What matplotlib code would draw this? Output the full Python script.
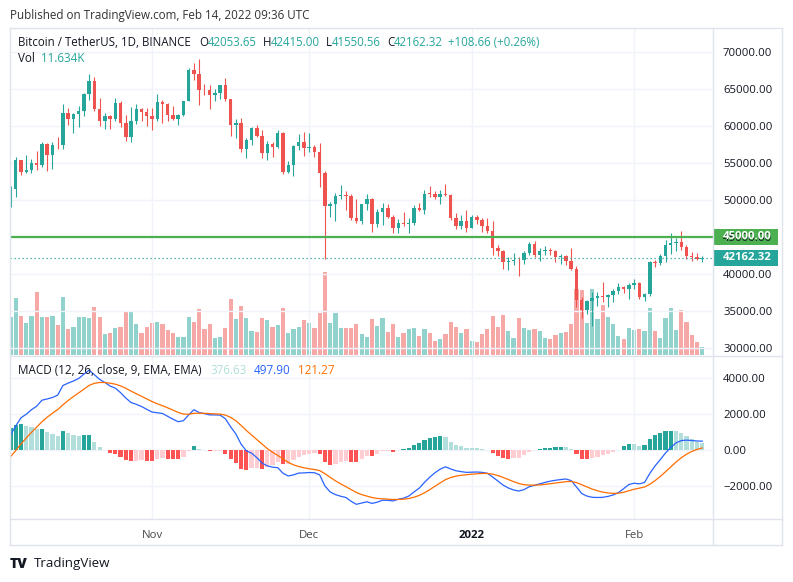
import matplotlib
matplotlib.use('Agg')
import matplotlib.pyplot as plt
import matplotlib.dates as mdates
from matplotlib.patches import Rectangle
from matplotlib.lines import Line2D
from matplotlib.ticker import FuncFormatter
from matplotlib.transforms import IdentityTransform
import numpy as np
import pandas as pd

plt.rcParams['font.family'] = ['Open Sans', 'DejaVu Sans']

# BTC/USDT daily, Binance, 5 Oct 2021 .. 14 Feb 2022
dates = pd.date_range('2021-10-05', '2022-02-14', freq='D')

opens = [49229, 51471, 55315, 53785, 53955, 54949, 54659, 57471, 55996, 57370,
         57347, 61672, 60875, 61528, 62005, 64280, 66002, 62193, 60689, 61286,
         60852, 63079, 60328, 58414, 60576, 62253, 61859, 61300, 60911, 63220,
         62896, 61396, 60941, 61470, 63273, 67525, 66947, 64883, 64774, 64122,
         64380, 65520, 63606, 60059, 60345, 56891, 58052, 59707, 58617, 56247,
         57541, 57138, 58960, 53723, 54716, 57275, 57776, 56951, 57185, 56485,
         53602, 49152, 49397, 50441, 50588, 50472, 47535, 47141, 49389, 50053,
         46702, 48336, 48864, 47632, 46133, 46834, 46681, 46914, 48887, 48588,
         50839, 50820, 50400, 50775, 50701, 47544, 46464, 47120, 46217, 47722,
         47286, 46446, 45833, 43452, 43082, 41567, 41680, 41864, 41822, 42735,
         43950, 42592, 43099, 43178, 43114, 42251, 42374, 41744, 40680, 36445,
         35071, 36245, 36660, 36958, 36808, 37160, 37716, 38166, 37881, 38466,
         38694, 36897, 37311, 41571, 41382, 42380, 43839, 44118, 44338, 43566,
         42407, 42244, 42053.65]
highs = [51886, 55750, 55332, 56100, 55489, 56561, 57839, 57680, 57777, 58532,
         62933, 62378, 61718, 62695, 64486, 67000, 66639, 63732, 61747, 61500,
         63710, 63293, 61496, 62499, 62980, 62359, 62405, 62437, 64270, 63500,
         63086, 62637, 61560, 63286, 67789, 68524, 69000, 65600, 65450, 64990,
         65550, 66401, 63617, 60840, 60977, 58373, 59845, 60029, 59444, 57875,
         57735, 59398, 59150, 55280, 57445, 58865, 59176, 59053, 57375, 57600,
         53859, 49699, 50891, 51936, 51200, 50797, 50125, 49485, 50777, 50189,
         48700, 49500, 49436, 47995, 47392, 48300, 47537, 49328, 49576, 51375,
         51810, 51156, 51280, 52088, 50704, 48140, 47879, 48549, 47954, 47990,
         47570, 47557, 47070, 43816, 43145, 42300, 42786, 42248, 43100, 44322,
         44459, 43448, 43800, 43475, 43179, 42690, 42561, 43505, 41100, 36835,
         36499, 37550, 37545, 38920, 37234, 38000, 38720, 38359, 38744, 39265,
         38855, 37387, 41772, 41913, 42657, 44500, 45492, 44798, 45821, 43920,
         43000, 42760, 42415.00]
lows = [49000, 50382, 53357, 53617, 53661, 54080, 54415, 53879, 54167, 56818,
        56850, 60150, 58963, 59844, 61322, 63481, 62000, 60000, 59562, 59510,
        60650, 59817, 58000, 57820, 60174, 60673, 59945, 59405, 60624, 60382,
        60677, 60721, 60050, 61322, 63273, 66222, 62822, 64100, 62278, 63360,
        63576, 63400, 58574, 58373, 56474, 55600, 57353, 58486, 55610, 55317,
        55837, 57000, 53500, 53610, 53256, 56666, 55875, 56458, 55777, 51681,
        42000, 47728, 47100, 50040, 48600, 47320, 46852, 46751, 48638, 45672,
        46290, 46547, 47511, 45456, 45500, 46406, 45558, 46630, 48421, 48050,
        50384, 50142, 49412, 50449, 47313, 46096, 46060, 45678, 46208, 46654,
        45696, 45500, 42500, 42430, 40610, 40502, 41200, 39650, 41268, 42474,
        42311, 41725, 42555, 42581, 41540, 41250, 41138, 40553, 35440, 34008,
        34601, 32917, 35702, 36193, 35507, 36155, 37268, 37351, 36632, 38000,
        36586, 36250, 37026, 40843, 41116, 41645, 42666, 43117, 43187, 42000,
        41748, 41870, 41550.56]
closes = [51471, 55315, 53785, 53951, 54949, 54659, 57471, 55996, 57367, 57347,
          61672, 60875, 61528, 62009, 64280, 66001, 62193, 60688, 61286, 60852,
          63078, 60328, 58413, 60575, 62253, 61859, 61299, 60911, 63219, 62896,
          61395, 60937, 61470, 63273, 67525, 66947, 64882, 64774, 64122, 64380,
          65519, 63607, 60058, 60345, 56892, 58052, 59707, 58623, 56247, 57541,
          57138, 58960, 53726, 54721, 57274, 57776, 56950, 57184, 56480, 53601,
          49152, 49396, 50441, 50588, 50471, 47545, 47140, 49389, 50053, 46702,
          48343, 48864, 47632, 46131, 46834, 46681, 46914, 48889, 48588, 50838,
          50820, 50399, 50775, 50701, 47543, 46464, 47120, 46216, 47722, 47286,
          46446, 45833, 43451, 43082, 41566, 41679, 41864, 41822, 42736, 43950,
          42592, 43099, 43177, 43113, 42250, 42375, 41744, 40680, 36445, 35071,
          36244, 36660, 36958, 36809, 37160, 37716, 38166, 37882, 38466, 38694,
          36896, 37311, 41574, 41382, 42380, 43840, 44118, 44338, 43565, 42407,
          42244, 42053.65, 42162.32]
# volume in thousands of BTC
volumes = [52.5, 77.7, 53.8, 43.4, 53.8, 86.7, 51.6, 52.5, 53.8, 41.1,
           79.9, 35.2, 38.8, 51.6, 52.5, 50.3, 66.2, 51.6, 28.4, 30.6,
           36.6, 38.8, 60.7, 59.3, 42.5, 30.6, 38.8, 44.3, 45.6, 42.5,
           34.3, 30.6, 25.1, 25.1, 52.5, 44.8, 63.0, 35.6, 42.5, 22.9,
           25.1, 37.4, 76.3, 48.9, 67.1, 50.3, 33.3, 31.9, 51.1, 48.0,
           38.8, 41.1, 64.8, 29.7, 35.6, 38.8, 48.0, 44.3, 37.4, 58.0,
           114.1, 44.3, 57.1, 37.4, 37.4, 37.4, 42.9, 28.4, 24.7, 49.7,
           39.3, 51.1, 31.9, 42.1, 25.1, 29.7, 35.6, 37.4, 26.4, 35.6,
           30.6, 19.6, 21.9, 28.4, 44.8, 38.8, 29.7, 35.6, 19.6, 18.2,
           28.8, 35.9, 53.4, 38.4, 54.8, 32.9, 23.7, 51.1, 36.6, 34.3,
           36.0, 32.9, 23.7, 22.3, 27.4, 30.1, 31.5, 42.1, 90.0, 89.1,
           44.3, 90.0, 49.7, 68.1, 52.1, 42.1, 26.0, 22.3, 37.0, 34.7,
           36.0, 32.9, 64.4, 32.9, 23.7, 51.1, 64.0, 34.7, 61.7, 45.2,
           27.0, 17.8, 11.634]

# MACD (12, 26, close, 9)
macd_line = [840, 1350, 1800, 2000, 2250, 2450, 2780, 2850, 2930, 3060,
             3600, 3730, 3850, 3990, 4230, 4450, 4200, 3940, 3770, 3570,
             3450, 3200, 2900, 2650, 2550, 2430, 2270, 2120, 2080, 2040,
             1880, 1720, 1580, 1640, 1960, 2250, 2090, 2030, 1960, 1960,
             1950, 1750, 1300, 900, 330, -40, -170, -420, -720, -880,
             -950, -980, -1290, -1440, -1380, -1280, -1270, -1250, -1260, -1380,
             -2000, -2330, -2480, -2570, -2640, -2850, -3020, -2950, -2880, -2970,
             -2900, -2790, -2800, -2830, -2740, -2680, -2560, -2330, -2120, -1800,
             -1510, -1260, -1060, -930, -1050, -1150, -1200, -1240, -1230, -1220,
             -1240, -1290, -1500, -1720, -1950, -2110, -2220, -2280, -2200, -2040,
             -1960, -1880, -1800, -1730, -1680, -1640, -1610, -1700, -2050, -2420,
             -2560, -2630, -2640, -2630, -2580, -2500, -2370, -2150, -1920, -1845,
             -1880, -1800, -1300, -880, -530, -160, 150, 400, 530, 555,
             535, 508, 497.90]
signal_line = [-367, -24, 341, 673, 988, 1280, 1580, 1834, 2053, 2254,
               2523, 2764, 2981, 3183, 3392, 3604, 3723, 3766, 3767, 3728,
               3672, 3578, 3442, 3284, 3137, 2996, 2851, 2705, 2580, 2472,
               2354, 2227, 2098, 2006, 1997, 2048, 2056, 2051, 2033, 2018,
               2004, 1953, 1822, 1638, 1376, 1093, 840, 588, 326, 85,
               -122, -294, -493, -682, -822, -914, -985, -1038, -1082, -1142,
               -1314, -1517, -1710, -1882, -2034, -2197, -2362, -2480, -2560, -2642,
               -2694, -2713, -2730, -2750, -2748, -2734, -2699, -2625, -2524, -2379,
               -2205, -2016, -1825, -1646, -1527, -1452, -1402, -1370, -1342, -1318,
               -1302, -1300, -1340, -1416, -1523, -1640, -1756, -1861, -1929, -1951,
               -1953, -1938, -1910, -1874, -1835, -1796, -1759, -1747, -1808, -1930,
               -2056, -2171, -2265, -2338, -2386, -2409, -2401, -2351, -2265, -2181,
               -2121, -2057, -1906, -1701, -1467, -1206, -935, -668, -428, -231,
               -78, 39, 121.27]
macd_hist = [1207, 1374, 1459, 1327, 1262, 1170, 1200, 1016, 877, 806,
             1077, 966, 869, 807, 838, 846, 477, 174, 3, -158,
             -222, -378, -542, -634, -587, -566, -581, -585, -500, -432,
             -474, -507, -518, -366, -37, 202, 34, -21, -73, -58,
             -54, -203, -522, -738, -1046, -1133, -1010, -1008, -1046, -965,
             -828, -686, -797, -758, -558, -366, -285, -212, -178, -238,
             -686, -813, -770, -688, -606, -653, -658, -470, -320, -328,
             -206, -77, -70, -80, 8, 54, 139, 295, 404, 579,
             695, 756, 765, 716, 477, 302, 202, 130, 112, 98,
             62, 10, -160, -304, -427, -470, -464, -419, -271, -89,
             -7, 58, 110, 144, 155, 156, 149, 47, -242, -490,
             -504, -459, -375, -292, -194, -91, 31, 201, 345, 336,
             241, 257, 606, 821, 937, 1046, 1085, 1068, 958, 786,
             613, 469, 376.63]

price_ticks = [30000, 35000, 40000, 45000, 50000, 55000, 60000, 65000, 70000]
macd_ticks = [-2000, 0, 2000, 4000]
month_ticks = ['2021-11-01', '2021-12-01', '2022-01-01', '2022-02-01']
month_labels = ['Nov', 'Dec', '2022', 'Feb']
level = 45000

UP, DN = '#26a69a', '#ef5350'
TXT = '#131722'
GRID = '#f0f3fa'
FRAME = '#e0e3eb'

W, H = 793, 582
fig = plt.figure(figsize=(W / 100, H / 100), dpi=100)


def box(l, t, r, b):
    return [l / W, 1 - b / H, (r - l) / W, (b - t) / H]


def fig_line(x1, y1, x2, y2, color=FRAME, lw=1):
    fig.add_artist(Line2D([x1 / W, x2 / W], [1 - y1 / H, 1 - y2 / H],
                          color=color, lw=lw, transform=fig.transFigure))


renderer = fig.canvas.get_renderer()


def seq_text(x, y, pieces, size):
    # write coloured pieces one after another on one line
    for s, c, extra in pieces:
        t = fig.text(x / W, 1 - y / H, s, color=c, fontsize=size, va='center', ha='left')
        x += t.get_window_extent(renderer).width + extra
    return x


xs = mdates.date2num(dates.to_pydatetime())
o = np.array(opens)
h = np.array(highs)
l = np.array(lows)
c = np.array(closes)
up = c >= o
col = np.where(up, UP, DN)
xlim = (xs[0] - 0.1, xs[0] + 134.06)
mt = mdates.date2num(pd.to_datetime(month_ticks).to_pydatetime())

# ---- price pane
ax = fig.add_axes(box(10, 28, 713, 355))
axv = ax.twinx()
ax.set_zorder(axv.get_zorder() + 1)
ax.patch.set_visible(False)

vol_col = [(0.149, 0.651, 0.604, 0.5) if u else (0.937, 0.325, 0.314, 0.5) for u in up]
axv.bar(xs, volumes, width=0.8, color=vol_col, linewidth=0)
axv.set_ylim(0, 448)
axv.set_yticks([])

ax.vlines(xs, l, h, colors=col, linewidth=0.8)
ax.bar(xs, np.maximum(np.abs(c - o), 90), bottom=np.minimum(o, c), width=0.66,
       color=col, linewidth=0)
ax.axhline(level, color='#4caf50', lw=1.6)
ax.axhline(closes[-1], color=UP, lw=0.9, ls=(0, (1, 2.2)))

ax.set_xlim(*xlim)
ax.set_ylim(29014, 73203)
ax.set_yticks(price_ticks)
ax.yaxis.tick_right()
ax.yaxis.set_major_formatter(FuncFormatter(lambda v, p: f'{v:.2f}'))
ax.set_xticks(mt)
ax.tick_params(axis='x', labelbottom=False, length=0)
ax.tick_params(axis='y', length=0, pad=7.2, labelsize=8.2, labelcolor=TXT)
ax.grid(True, color=GRID, lw=1)
ax.set_axisbelow(True)
for a in (ax, axv):
    for s in a.spines.values():
        s.set_visible(False)

# ---- MACD pane
axm = fig.add_axes(box(10, 356, 713, 519))
hist = np.array(macd_hist)
prev = np.concatenate([[hist[0] - 1], hist[:-1]])
hcol = np.where(hist >= 0, np.where(hist >= prev, '#26a69a', '#b2dfdb'),
                np.where(hist < prev, '#ff5252', '#ffcdd2'))
axm.bar(xs, hist, width=0.8, color=hcol, linewidth=0)
axm.plot(xs, macd_line, color='#2962ff', lw=0.9)
axm.plot(xs, signal_line, color='#ff6d00', lw=0.9)
axm.set_xlim(*xlim)
axm.set_ylim(-3838, 5242)
axm.set_yticks(macd_ticks)
axm.yaxis.tick_right()
axm.yaxis.set_major_formatter(FuncFormatter(lambda v, p: f'{v:.2f}'.replace('-', '\u2212')))
axm.set_xticks(mt)
axm.set_xticklabels(month_labels)
axm.tick_params(axis='x', length=0, pad=8, labelsize=8.2, labelcolor='#4a4a4a')
axm.tick_params(axis='y', length=0, pad=7.2, labelsize=8.2, labelcolor=TXT)
axm.get_xticklabels()[2].set_fontweight('bold')
axm.get_xticklabels()[2].set_color(TXT)
axm.grid(True, color=GRID, lw=1)
axm.set_axisbelow(True)
for s in axm.spines.values():
    s.set_visible(False)

# ---- frame
fig_line(10, 28, 782, 28)
fig_line(10, 545, 782, 545)
fig_line(10, 28, 10, 545)
fig_line(782, 28, 782, 545)
fig_line(713, 28, 713, 545)
fig_line(10, 355.5, 782, 355.5)
fig_line(10, 519, 782, 519)

# ---- price tags on the axis
for val, fc in ((level, '#4caf50'), (closes[-1], UP)):
    yd = ax.transData.transform((xs[0], val))[1]
    fig.add_artist(Rectangle((714, yd - 8), 64, 16, transform=IdentityTransform(),
                             facecolor=fc, edgecolor='none'))
    fig.text(723 / W, yd / H, f'{val:.2f}', color='white', fontsize=8.2,
             va='center', ha='left', fontweight='bold')

# ---- texts
seq_text(10, 15, [('Published on TradingView.com, Feb 14, 2022 09:36 UTC', '#333333', 0)], 8.4)
seq_text(18, 43, [('Bitcoin / TetherUS, 1D, BINANCE', TXT, 8),
                  ('O', TXT, 0), (f'{opens[-1]:.2f}', UP, 6),
                  ('H', TXT, 0), (f'{highs[-1]:.2f}', UP, 6),
                  ('L', TXT, 0), (f'{lows[-1]:.2f}', UP, 6),
                  ('C', TXT, 0), (f'{closes[-1]:.2f}', UP, 5),
                  ('+108.66 (+0.26%)', UP, 0)], 8.3)
seq_text(18, 58, [('Vol', TXT, 6), (f'{volumes[-1]:.3f}K', UP, 0)], 8.4)
seq_text(18, 370, [('MACD (12, 26, close, 9, EMA, EMA)', TXT, 9),
                   (f'{macd_hist[-1]:.2f}', '#b2dfdb', 7),
                   (f'{macd_line[-1]:.2f}', '#2962ff', 7),
                   (f'{signal_line[-1]:.2f}', '#ff6d00', 0)], 8.4)
fig.text(10 / W, 1 - 564 / H, 'TV', fontsize=10, fontweight='heavy', color=TXT,
         va='center', ha='left')
fig.text(34 / W, 1 - 564 / H, 'TradingView', fontsize=9.6, color=TXT, va='center', ha='left')

fig.savefig('out.png', dpi=100, facecolor='white')
